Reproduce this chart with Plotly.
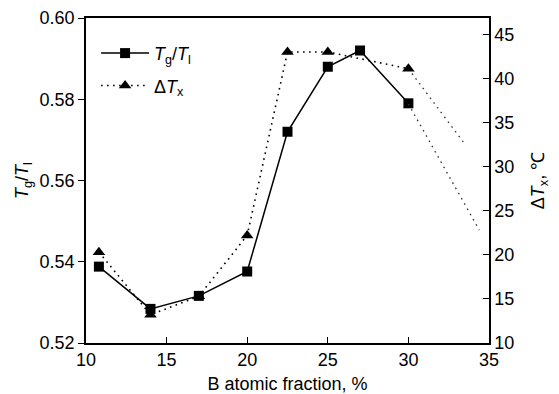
import plotly.graph_objects as go

# Data
x_ratio = [10.8, 14, 17, 20, 22.5, 25, 27, 30]
tg_tl = [0.5388, 0.5284, 0.5316, 0.5376, 0.5720, 0.5880, 0.5920, 0.5790]

x_dtx = [10.8, 14, 17, 20, 22.5, 25, 30]
dtx = [20.3, 13.2, 15.3, 22.2, 43.0, 43.0, 41.1]

# dotted extension lines beyond 30 % (right-axis units)
ext1_x = [30, 33.4]
ext1_y = [41.1, 32.8]
ext2_x = [30, 34.4]
ext2_y = [37.1, 22.8]

x_ticks = [10, 15, 20, 25, 30, 35]
yl_ticks = [0.52, 0.54, 0.56, 0.58, 0.60]
yr_ticks = [10, 15, 20, 25, 30, 35, 40, 45]

FONT = "Liberation Sans, Arial, sans-serif"
fs = 18
dotdash = "1.6px,4.4px"

fig = go.Figure()

fig.add_trace(go.Scatter(
    x=ext1_x, y=ext1_y, yaxis="y2", mode="lines",
    line=dict(color="#333", width=1.3, dash=dotdash), showlegend=False, hoverinfo="skip"))
fig.add_trace(go.Scatter(
    x=ext2_x, y=ext2_y, yaxis="y2", mode="lines",
    line=dict(color="#333", width=1.3, dash=dotdash), showlegend=False, hoverinfo="skip"))

fig.add_trace(go.Scatter(
    x=x_dtx, y=dtx, yaxis="y2", mode="lines+markers",
    name="Δ<i>T</i><sub>x</sub>", legendgroup="b",
    line=dict(color="black", width=1.6, dash=dotdash),
    marker=dict(symbol="triangle-up", size=11, color="black"),
    legendrank=2))

fig.add_trace(go.Scatter(
    x=x_ratio, y=tg_tl, mode="lines+markers",
    name="<i>T</i><sub>g</sub>/<i>T</i><sub>l</sub>", legendgroup="a",
    line=dict(color="black", width=1.5),
    marker=dict(symbol="square", size=10, color="black"),
    legendrank=1))

axis_common = dict(
    showline=True, linecolor="black", linewidth=1.5, automargin=False,
    tickfont=dict(family=FONT, size=fs, color="black"),
    showgrid=False, zeroline=False, ticklen=6, tickwidth=1.2, tickcolor="black",
)

fig.update_layout(
    width=559, height=394,
    margin=dict(l=86, r=70, t=18, b=51),
    paper_bgcolor="white", plot_bgcolor="white",
    font=dict(family=FONT, size=fs, color="black"),
    showlegend=True,
    legend=dict(x=0.025, y=0.948, xanchor="left", yanchor="top",
                bgcolor="rgba(0,0,0,0)", font=dict(family=FONT, size=fs),
                traceorder="grouped", tracegroupgap=6, itemwidth=48),
    xaxis=dict(range=[10, 35], tickvals=x_ticks, ticks="inside", mirror=True,
               title=dict(text="B atomic fraction, %", font=dict(family=FONT, size=fs), standoff=9),
               **axis_common),
    yaxis=dict(range=[0.52, 0.60], tickvals=yl_ticks, tickformat=".2f", ticks="outside",
               title=dict(text="<i>T</i><sub>g</sub>/<i>T</i><sub>l</sub>", font=dict(family=FONT, size=fs), standoff=6),
               **axis_common),
    yaxis2=dict(range=[10, 46.85], tickvals=yr_ticks, ticks="inside", overlaying="y", side="right",
                title=dict(text="Δ<i>T</i><sub>x</sub>, ℃", font=dict(family=FONT, size=fs), standoff=18),
                **axis_common),
)

fig.write_html("out.html")
